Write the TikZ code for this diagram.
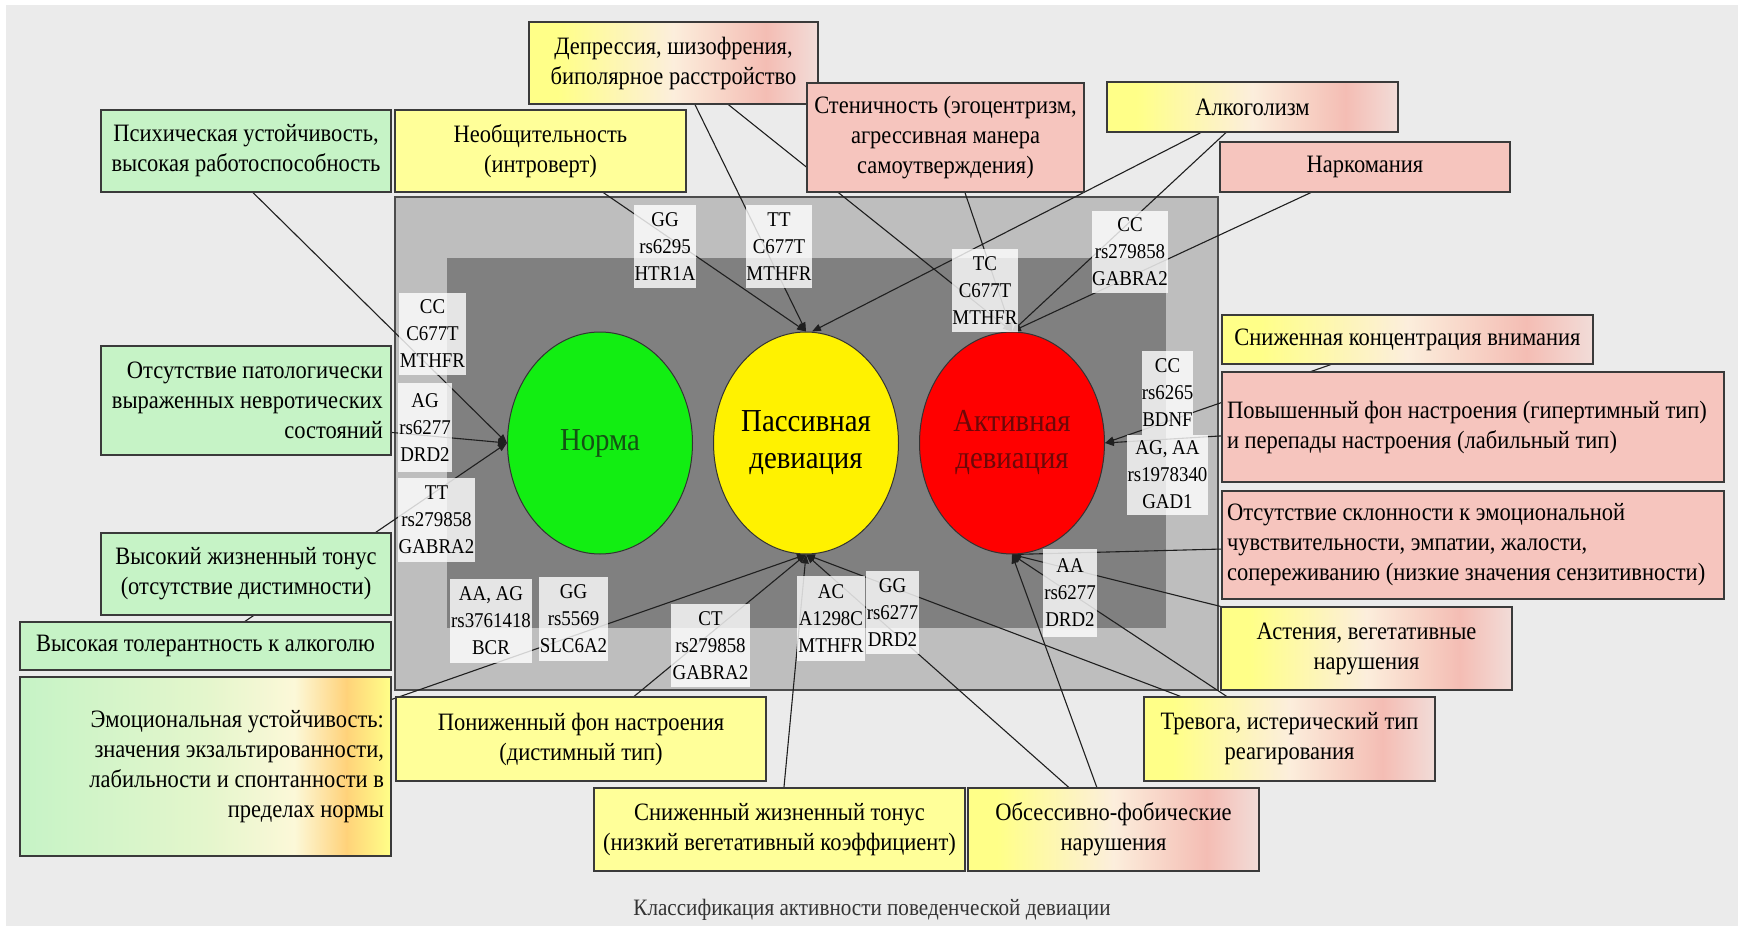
\documentclass[tikz,border=0pt]{standalone}
\usepackage{fontspec}
\setmainfont{Liberation Serif}[FakeStretch=0.9]
\usetikzlibrary{shapes.geometric,arrows.meta,calc}
\definecolor{bgc}{HTML}{EBEBEB}
\definecolor{lgray}{HTML}{BEBEBE}
\definecolor{dgray}{HTML}{808080}
\definecolor{cGreen}{HTML}{C6F3C6}
\definecolor{cYel}{HTML}{FFFF99}
\definecolor{cYelB}{HTML}{FFFF88}
\definecolor{cCream}{HTML}{FCEEDC}
\definecolor{cPink}{HTML}{F6C5BE}
\definecolor{cPinkS}{HTML}{F4BDB4}
\definecolor{cPinkL}{HTML}{F2DCD8}
\definecolor{cGY}{HTML}{E4F6CC}
\definecolor{cPaleY}{HTML}{FCF8D8}
\definecolor{cOrange}{HTML}{FFD27A}
\definecolor{boxline}{HTML}{3A3A3A}
\definecolor{normtxt}{HTML}{145214}
\definecolor{acttxt}{HTML}{6E0808}
\definecolor{ovgreen}{HTML}{12EE12}
\pgfdeclarehorizontalshading{yp}{100bp}{color(0bp)=(cYelB); color(30bp)=(cYelB); color(50bp)=(cCream); color(66bp)=(cPinkS); color(75bp)=(cPinkL); color(100bp)=(cPinkL)}
\pgfdeclarehorizontalshading{gyo}{100bp}{color(0bp)=(cGreen); color(25bp)=(cGreen); color(50bp)=(cGY); color(62bp)=(cPaleY); color(69bp)=(cOrange); color(75bp)=(cYelB); color(100bp)=(cYelB)}
\newcommand\bxfont{\fontsize{25}{30}\selectfont}
\newcommand\gnfont{\fontsize{21}{27}\selectfont}
\newcommand\elfont{\fontsize{32}{37}\selectfont}
\newcommand\capfont{\fontsize{23.5}{26}\selectfont}
\pgfdeclarelayer{bglayer}
\pgfdeclarelayer{lnlayer}
\pgfsetlayers{bglayer,lnlayer,main}
\begin{document}
\begin{tikzpicture}[x=1pt,y=-1pt,
  box/.style={draw=boxline, line width=1.2pt, inner sep=4pt, font=\bxfont, align=center},
  green box/.style={box, fill=cGreen},
  yellow box/.style={box, fill=cYel},
  pink box/.style={box, fill=cPink},
  grad box/.style={box, shading=yp},
  gene/.style={fill=white, fill opacity=0.8, text opacity=1, inner sep=0pt, font=\gnfont, align=center},
  oval/.style={ellipse, draw=black!80, line width=1pt, minimum width=185, minimum height=222, inner sep=0pt, font=\elfont, align=center},
  conn/.style={draw=black!88, line width=1.1pt, -{Triangle[length=9pt,width=7pt]}}]
\useasboundingbox (0,0) rectangle (1738,931);
\begin{pgfonlayer}{bglayer}
\fill[white] (0,0) rectangle (1738,931);
\fill[bgc] (6,5) rectangle (1738,926);
\filldraw[fill=lgray, draw=black!70, line width=1.2pt] (395,197) rectangle (1218,690);
\fill[dgray] (447,258) rectangle (1166,628);
\end{pgfonlayer}
% ovals
\node[oval, fill=ovgreen] (green) at (600,443) {\textcolor{normtxt}{Норма}};
\node[oval, fill=yellow] (yellow) at (806,443) {Пассивная\\девиация};
\node[oval, fill=red] (red) at (1012,443) {\textcolor{acttxt}{Активная}\\\textcolor{acttxt}{девиация}};
% boxes
\node[green box, minimum width=290, minimum height=82] (psych) at (246,151) {Психическая устойчивость,\\высокая работоспособность};
\node[yellow box, minimum width=291, minimum height=82] (neob) at (540.5,151) {Необщительность\\(интроверт)};
\node[grad box, minimum width=289, minimum height=82] (depr) at (673.5,63) {Депрессия, шизофрения,\\биполярное расстройство};
\node[pink box, minimum width=277, minimum height=109] (sten) at (945.5,137.5) {Стеничность (эгоцентризм,\\агрессивная манера\\самоутверждения)};
\node[grad box, minimum width=291, minimum height=50] (alko) at (1252.5,107) {Алкоголизм};
\node[pink box, minimum width=290, minimum height=50] (nark) at (1365,167) {Наркомания};
\node[grad box, minimum width=371, minimum height=49] (sniz) at (1407.5,339.5) {Сниженная концентрация внимания};
\node[pink box, minimum width=502, minimum height=110, align=flush left, text width=492, inner xsep=5pt] (povysh) at (1473,427) {Повышенный фон настроения (гипертимный тип)\\и перепады настроения (лабильный тип)};
\node[pink box, minimum width=502, minimum height=108, align=flush left, text width=492, inner xsep=5pt] (otsskl) at (1473,545) {Отсутствие склонности к эмоциональной\\чувствительности, эмпатии, жалости,\\сопереживанию (низкие значения сензитивности)};
\node[grad box, minimum width=291, minimum height=83] (asten) at (1366.5,648.5) {Астения, вегетативные\\нарушения};
\node[grad box, minimum width=291, minimum height=84] (trev) at (1289.5,739) {Тревога, истерический тип\\реагирования};
\node[grad box, minimum width=291, minimum height=83] (obses) at (1113.5,829.5) {Обсессивно-фобические\\нарушения};
\node[yellow box, minimum width=371, minimum height=83] (snizton) at (779.5,829.5) {Сниженный жизненный тонус\\(низкий вегетативный коэффициент)};
\node[yellow box, minimum width=370, minimum height=84] (ponizh) at (581,739) {Пониженный фон настроения\\(дистимный тип)};
\node[box, shading=gyo, minimum width=371, minimum height=179, align=flush right, text width=357, inner xsep=7pt] (emoc) at (205.5,766.5) {Эмоциональная устойчивость:\\значения экзальтированности,\\лабильности и спонтанности в\\пределах нормы};
\node[green box, minimum width=371, minimum height=48] (vystol) at (205.5,646) {Высокая толерантность к алкоголю};
\node[green box, minimum width=290, minimum height=82] (vysok) at (246,574) {Высокий жизненный тонус\\(отсутствие дистимности)};
\node[green box, minimum width=290, minimum height=109, align=flush right, text width=274, inner xsep=8pt] (otspat) at (246,400.5) {Отсутствие патологически\\выраженных невротических\\состояний};
% connectors
\begin{pgfonlayer}{lnlayer}
\draw[conn] ($(psych.south west)!0.524!(psych.south east)$) -- (green.west);
\draw[conn] ($(otspat.north east)!0.79!(otspat.south east)$) -- (green.west);
\draw[conn] ($(vystol.north west)!0.606!(vystol.north east)$) -- (green.west);
\draw[conn] ($(emoc.north east)!0.128!(emoc.south east)$) -- (yellow.south);
\draw[conn] ($(neob.south west)!0.715!(neob.south east)$) -- (yellow.north);
\draw[conn] ($(depr.south west)!0.574!(depr.south east)$) -- (yellow.north);
\draw[conn] ($(depr.south west)!0.689!(depr.south east)$) -- (red.north);
\draw[conn] ($(alko.south west)!0.323!(alko.south east)$) -- ([xshift=6pt]yellow.north);
\draw[conn] ($(alko.south west)!0.409!(alko.south east)$) -- (red.north);
\draw[conn] ($(nark.south west)!0.314!(nark.south east)$) -- (red.north);
\draw[conn] ($(sten.south west)!0.570!(sten.south east)$) -- (red.north);
\draw[conn] ($(sniz.south west)!0.294!(sniz.south east)$) -- (red.east);
\draw[conn] ($(povysh.north west)!0.58!(povysh.south west)$) -- (red.east);
\draw[conn] ($(otsskl.north west)!0.537!(otsskl.south west)$) -- (red.south);
\draw[conn] (asten.north west) -- (red.south);
\draw[conn] ($(trev.north west)!0.127!(trev.north east)$) -- (yellow.south);
\draw[conn] ($(trev.north west)!0.285!(trev.north east)$) -- (red.south);
\draw[conn] ($(obses.north west)!0.347!(obses.north east)$) -- (yellow.south);
\draw[conn] ($(obses.north west)!0.443!(obses.north east)$) -- (red.south);
\draw[conn] ($(snizton.north west)!0.512!(snizton.north east)$) -- (yellow.south);
\draw[conn] ($(ponizh.north west)!0.643!(ponizh.north east)$) -- (yellow.south);
\end{pgfonlayer}
% gene labels
\node[gene, minimum width=67, minimum height=82] (g1) at (432.5,334) {CC\\C677T\\MTHFR};
\node[gene, minimum width=54, minimum height=89] (g2) at (425,427.5) {AG\\rs6277\\DRD2};
\node[gene, minimum width=77, minimum height=84] (g3) at (436.5,520) {TT\\rs279858\\GABRA2};
\node[gene, minimum width=62, minimum height=83] (g4) at (665,246.5) {GG\\rs6295\\HTR1A};
\node[gene, minimum width=66, minimum height=83] (g5) at (779,246.5) {TT\\C677T\\MTHFR};
\node[gene, minimum width=66, minimum height=83] (g6) at (985,290.5) {TC\\C677T\\MTHFR};
\node[gene, minimum width=76, minimum height=82] (g7) at (1130,252) {CC\\rs279858\\GABRA2};
\node[gene, minimum width=51, minimum height=84] (g8) at (1167.5,393) {CC\\rs6265\\BDNF};
\node[gene, minimum width=81, minimum height=80] (g9) at (1167.5,475) {AG, AA\\rs1978340\\GAD1};
\node[gene, minimum width=54, minimum height=88] (g10) at (1070,593) {AA\\rs6277\\DRD2};
\node[gene, minimum width=82, minimum height=84] (g11) at (491,621) {AA, AG\\rs3761418\\BCR};
\node[gene, minimum width=69, minimum height=84] (g12) at (573.5,619) {GG\\rs5569\\SLC6A2};
\node[gene, minimum width=79, minimum height=83] (g13) at (710.5,645.5) {CT\\rs279858\\GABRA2};
\node[gene, minimum width=68, minimum height=85] (g14) at (831,618.5) {AC\\A1298C\\MTHFR};
\node[gene, minimum width=53, minimum height=83] (g15) at (892.5,612.5) {GG\\rs6277\\DRD2};
% caption
\node[font=\capfont, text=black!80] (cap) at (872,910) {Классификация активности поведенческой девиации};
\end{tikzpicture}
\end{document}
